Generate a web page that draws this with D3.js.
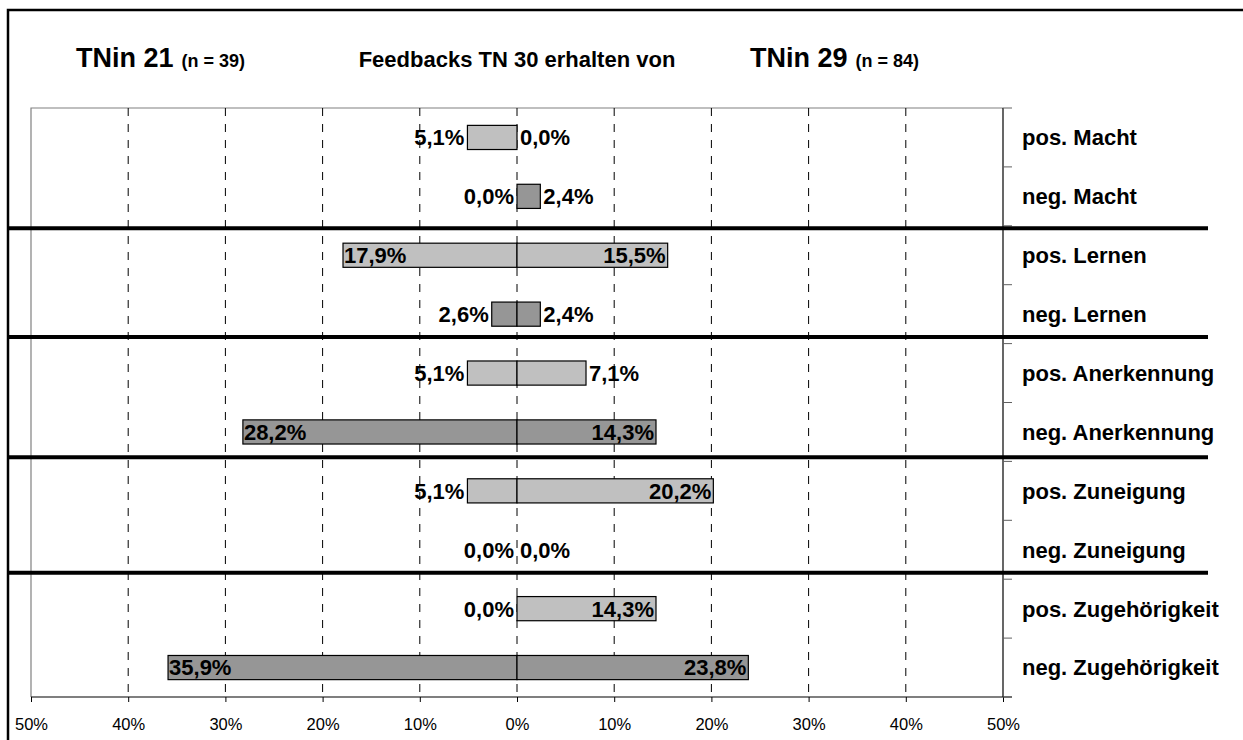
<!DOCTYPE html>
<html>
<head>
<meta charset="utf-8">
<script src="https://cdn.jsdelivr.net/npm/d3@7"></script>
<style>
  html, body { margin: 0; padding: 0; background: #fff; }
  svg { display: block; font-family: Arial, "Liberation Sans", sans-serif; }
</style>
</head>
<body>
<svg id="chart" width="1243" height="740"></svg>
<script>
// Feedback categories (top to bottom)
const categories = [
  "pos. Macht", "neg. Macht",
  "pos. Lernen", "neg. Lernen",
  "pos. Anerkennung", "neg. Anerkennung",
  "pos. Zuneigung", "neg. Zuneigung",
  "pos. Zugehörigkeit", "neg. Zugehörigkeit"
];
// Share of feedbacks (%) from TNin 21 (drawn to the left)
const valuesTN21 = [5.1, 0.0, 17.9, 2.6, 5.1, 28.2, 5.1, 0.0, 0.0, 35.9];
// Share of feedbacks (%) from TNin 29 (drawn to the right)
const valuesTN29 = [0.0, 2.4, 15.5, 2.4, 7.1, 14.3, 20.2, 0.0, 14.3, 23.8];
// Axis ticks (percent, left side negative)
const tickValues = [-50, -40, -30, -20, -10, 0, 10, 20, 30, 40, 50];
const tickLabels = ["50%", "40%", "30%", "20%", "10%", "0%", "10%", "20%", "30%", "40%", "50%"];
// Headings
const leftTitle = "TNin 21", leftN = "(n = 39)";
const centerTitle = "Feedbacks TN 30 erhalten von";
const rightTitle = "TNin 29", rightN = "(n = 84)";

// ---- layout ----
const plot = { left: 31, right: 1003, top: 108, bottom: 697 };
const dividerRows = [2.04, 3.89, 5.93, 7.89];   // group separators, in row units
const colors = { pos: "#c0c0c0", neg: "#969696" };

const svg = d3.select("#chart");

const x = d3.scaleLinear().domain([-50, 50]).range([plot.left, plot.right]);
const y = d3.scaleBand().domain(categories).range([plot.top, plot.bottom]).padding(0);
const rowY = d3.scaleLinear().domain([0, categories.length]).range([plot.top, plot.bottom]);
const barH = y.bandwidth() * 0.41;

const fmt = v => d3.format(".1f")(v).replace(".", ",") + "%";

// outer frame
svg.append("rect")
  .attr("x", 8).attr("y", 10)
  .attr("width", 1400).attr("height", 900)
  .attr("fill", "none").attr("stroke", "#000").attr("stroke-width", 2.5);

// plot area border (left/top)
svg.append("path")
  .attr("d", `M${plot.left},${plot.bottom}V${plot.top}H${plot.right}`)
  .attr("fill", "none").attr("stroke", "#808080").attr("stroke-width", 1.2);

// dashed vertical gridlines
svg.append("g").selectAll("line")
  .data(tickValues.filter(t => Math.abs(t) < 50))
  .join("line")
  .attr("x1", d => x(d)).attr("x2", d => x(d))
  .attr("y1", plot.top).attr("y2", plot.bottom)
  .attr("stroke", "#000").attr("stroke-width", 1)
  .attr("stroke-dasharray", "8,8");

// bottom axis
const xAxis = d3.axisBottom(x)
  .tickValues(tickValues)
  .tickFormat((d, i) => tickLabels[i])
  .tickSizeInner(5).tickSizeOuter(0).tickPadding(16);
const gx = svg.append("g").attr("transform", `translate(0,${plot.bottom})`).call(xAxis);
gx.select(".domain").remove();
gx.selectAll(".tick line").attr("stroke", "#000");
gx.selectAll(".tick text")
  .attr("font-family", "Arial, 'Liberation Sans', sans-serif")
  .attr("font-size", 16.5).attr("fill", "#000");
svg.append("line")
  .attr("x1", plot.left).attr("x2", plot.right + 9)
  .attr("y1", plot.bottom).attr("y2", plot.bottom)
  .attr("stroke", "#000").attr("stroke-width", 1.2);

// right category axis with ticks on row boundaries
svg.append("line")
  .attr("x1", plot.right).attr("x2", plot.right)
  .attr("y1", plot.top).attr("y2", plot.bottom)
  .attr("stroke", "#000").attr("stroke-width", 1.2);
svg.append("g").selectAll("line")
  .data(d3.range(categories.length + 1))
  .join("line")
  .attr("x1", plot.right).attr("x2", plot.right + 9)
  .attr("y1", d => rowY(d)).attr("y2", d => rowY(d))
  .attr("stroke", "#606060").attr("stroke-width", 1);

svg.append("g").selectAll("text")
  .data(categories)
  .join("text")
  .attr("x", plot.right + 19)
  .attr("y", d => y(d) + y.bandwidth() / 2)
  .attr("dy", "0.36em")
  .attr("font-size", 22).attr("font-weight", "bold")
  .text(d => d);

// bars
const rows = categories.map((c, i) => ({ cat: c, kind: c.startsWith("pos") ? "pos" : "neg", left: valuesTN21[i], right: valuesTN29[i] }));
const bars = [];
rows.forEach(r => {
  bars.push({ cat: r.cat, kind: r.kind, side: "left", v: r.left });
  bars.push({ cat: r.cat, kind: r.kind, side: "right", v: r.right });
});

svg.append("g").selectAll("rect")
  .data(bars.filter(b => b.v > 0))
  .join("rect")
  .attr("x", b => b.side === "left" ? x(-b.v) : x(0))
  .attr("width", b => b.side === "left" ? x(0) - x(-b.v) : x(b.v) - x(0))
  .attr("y", b => y(b.cat) + (y.bandwidth() - barH) / 2)
  .attr("height", barH)
  .attr("fill", b => colors[b.kind])
  .attr("stroke", "#000").attr("stroke-width", 1.2);

// value labels: inside the bar end when the bar is long, outside otherwise
svg.append("g").selectAll("text")
  .data(bars)
  .join("text")
  .attr("font-size", 22).attr("font-weight", "bold")
  .attr("y", b => y(b.cat) + y.bandwidth() / 2)
  .attr("dy", "0.36em")
  .each(function (b) {
    const inside = b.v >= 10;
    const t = d3.select(this);
    if (b.side === "left") {
      const xe = x(-b.v);
      t.attr("x", inside ? xe + 1 : xe - 3).attr("text-anchor", inside ? "start" : "end");
    } else {
      const xe = x(b.v);
      t.attr("x", inside ? xe - 2 : xe + 3).attr("text-anchor", inside ? "end" : "start");
    }
  })
  .text(b => fmt(b.v));

// group separators
svg.append("g").selectAll("line")
  .data(dividerRows)
  .join("line")
  .attr("x1", 8).attr("x2", 1208)
  .attr("y1", d => rowY(d)).attr("y2", d => rowY(d))
  .attr("stroke", "#000").attr("stroke-width", 4);

// headings
const t1 = svg.append("text").attr("x", 76).attr("y", 67).attr("font-weight", "bold");
t1.append("tspan").attr("font-size", 27).text(leftTitle);
t1.append("tspan").attr("font-size", 18).attr("dx", 8).text(leftN);

svg.append("text")
  .attr("x", x(0)).attr("y", 67)
  .attr("text-anchor", "middle")
  .attr("font-size", 22).attr("font-weight", "bold")
  .text(centerTitle);

const t2 = svg.append("text").attr("x", 750).attr("y", 67).attr("font-weight", "bold");
t2.append("tspan").attr("font-size", 27).text(rightTitle);
t2.append("tspan").attr("font-size", 18).attr("dx", 8).text(rightN);
</script>
</body>
</html>
